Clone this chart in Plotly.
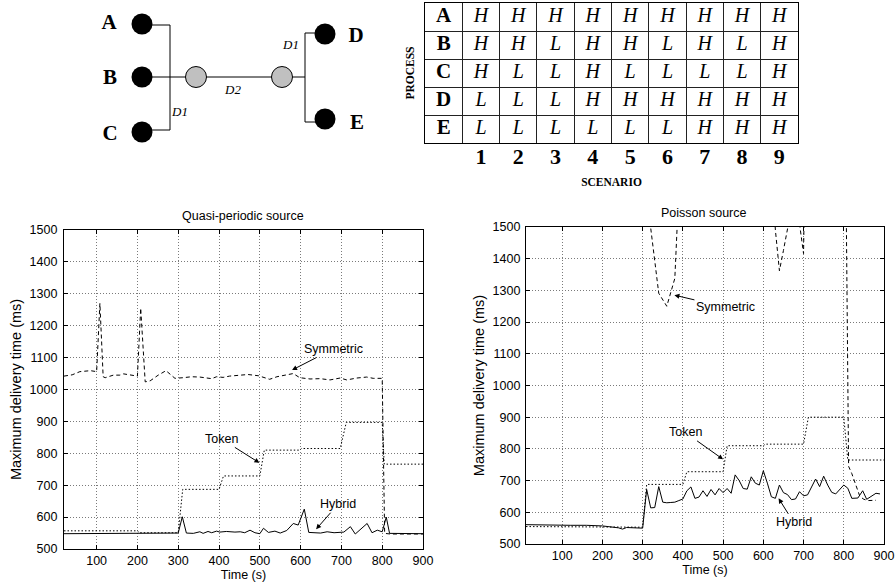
import plotly.graph_objects as go

W, H = 896, 587

# ---------------- data: quasi-periodic source ----------------
qp_sym_t = [20, 40, 59, 85, 100, 108, 116, 121, 141, 157, 166, 186, 200, 208, 219, 231, 251, 270, 292, 312,
            333, 353, 382, 394, 410, 426, 451, 471, 497, 524, 542, 562, 582, 598, 623, 648, 672, 697, 713, 738,
            762, 778, 800, 806, 820, 900]
qp_sym_v = [1042, 1046, 1056, 1059, 1056, 1270, 1040, 1037, 1045, 1045, 1049, 1045, 1042, 1255, 1024, 1027, 1045, 1059, 1035, 1037,
            1040, 1039, 1034, 1040, 1038, 1042, 1044, 1047, 1043, 1032, 1040, 1045, 1050, 1037, 1033, 1034, 1030, 1036, 1030, 1036,
            1039, 1035, 1035, 549, 547, 547]

qp_tok_t = [20, 200, 205, 300, 311, 400, 411, 500, 511, 598, 602, 697, 712, 800, 805, 900]
qp_tok_v = [557, 557, 551, 551, 687, 687, 729, 729, 810, 810, 815, 815, 897, 897, 766, 766]

qp_hyb_t = [20, 50, 100, 150, 200, 250, 300, 310, 320, 337, 353, 361, 373, 382, 394, 402, 418, 439, 452, 463,
            476, 488, 500, 509, 521, 537, 550, 566, 582, 594, 609, 620, 649, 665, 682, 706, 722, 734, 751, 763,
            775, 788, 800, 810, 818, 850, 900]
qp_hyb_v = [548, 548, 549, 550, 549, 549, 550, 601, 550, 549, 554, 549, 555, 551, 556, 553, 555, 553, 554, 551,
            559, 551, 548, 565, 552, 556, 550, 558, 580, 575, 625, 552, 550, 554, 551, 553, 570, 547, 565, 580,
            551, 559, 554, 600, 549, 548, 548]

# ---------------- data: Poisson source ----------------
ps_sym_t = [10, 100, 200, 300, 310, 320, 340, 360, 380, 390, 450, 550, 620, 630, 640, 650, 660, 670, 680, 690,
            700, 710, 760, 800, 812, 820, 840, 850, 860, 870, 880]
ps_sym_v = [1900, 1850, 1900, 1800, 1600, 1490, 1291, 1250, 1338, 1620, 1800, 1750, 1700, 1490, 1362, 1426, 1488, 1560, 1650, 1510,
            1416, 2300, 2200, 2400, 745, 722, 650, 641, 637, 637, 638]

ps_tok_t = [10, 300, 310, 400, 410, 500, 510, 600, 605, 700, 712, 800, 810, 900]
ps_tok_v = [555, 553, 688, 688, 728, 728, 810, 810, 815, 815, 900, 900, 765, 765]

ps_hyb_t = [10, 40, 80, 120, 160, 200, 240, 250, 260, 290, 300, 310, 320, 330, 340, 350, 360, 370, 380, 390,
            400, 410, 420, 430, 440, 450, 460, 470, 480, 490, 500, 510, 520, 530, 540, 550, 560, 570, 580, 590,
            600, 610, 620, 630, 640, 650, 660, 670, 680, 690, 700, 710, 720, 730, 740, 750, 760, 770, 780, 790,
            800, 810, 820, 835, 847, 857, 868, 880, 890]
ps_hyb_v = [561, 560, 561, 559, 559, 557, 551, 547, 552, 550, 550, 672, 614, 615, 681, 632, 630, 631, 632, 637,
            642, 668, 680, 644, 648, 668, 650, 672, 655, 675, 662, 675, 660, 718, 700, 675, 673, 712, 692, 686,
            731, 692, 649, 644, 686, 662, 656, 640, 642, 665, 652, 655, 680, 705, 681, 714, 686, 663, 658, 672,
            686, 676, 644, 645, 668, 641, 650, 660, 658]

x_ticks = [100, 200, 300, 400, 500, 600, 700, 800, 900]
y_ticks = [500, 600, 700, 800, 900, 1000, 1100, 1200, 1300, 1400, 1500]

# ---------------- data: scenario table ----------------
processes = ["A", "B", "C", "D", "E"]
scenarios = ["1", "2", "3", "4", "5", "6", "7", "8", "9"]
levels = [
    ["H", "H", "H", "H", "H", "H", "H", "H", "H"],
    ["H", "H", "L", "H", "H", "L", "H", "L", "H"],
    ["H", "L", "L", "H", "L", "L", "L", "L", "H"],
    ["L", "L", "L", "H", "H", "H", "H", "H", "H"],
    ["L", "L", "L", "L", "L", "L", "H", "H", "H"],
]

# ---------------- data: network diagram (schematic units) ----------------
node_names = ["A", "B", "C", "D", "E"]
node_x = [142, 142, 142, 325, 325]
node_y = [24, 77, 132, 34, 119]
node_label_x = [109, 110, 110, 356, 357]
node_label_y = [24, 79, 135, 37, 124]
relay_x = [196, 282]
relay_y = [77, 77]
wire_x = [142, 170, None, 142, 170, None, 170, 170, None, 142, 305, None, 305, 305, None, 305, 325, None, 305, 325]
wire_y = [25, 25, None, 130, 130, None, 25, 130, None, 77, 77, None, 33, 122, None, 33, 33, None, 122, 122]
link_names = ["D1", "D2", "D1"]
link_x = [180, 233, 291]
link_y = [113, 91, 46]

SANS = "Liberation Sans, Arial, sans-serif"
SERIF = "Liberation Serif, Times New Roman, serif"

fig = go.Figure()

# ---- charts ----
def add_series(t, v, xa, ya, dash, name):
    fig.add_trace(go.Scatter(x=t, y=v, mode="lines", name=name, xaxis=xa, yaxis=ya,
                             line=dict(color="black", width=1, dash=dash), showlegend=False,
                             hoverinfo="skip"))

add_series(qp_sym_t, qp_sym_v, "x", "y", "4px,3px", "Symmetric")
add_series(qp_tok_t, qp_tok_v, "x", "y", "1.5px,2px", "Token")
add_series(qp_hyb_t, qp_hyb_v, "x", "y", "solid", "Hybrid")
add_series(ps_sym_t, ps_sym_v, "x2", "y2", "4px,3px", "Symmetric")
add_series(ps_tok_t, ps_tok_v, "x2", "y2", "1.5px,2px", "Token")
add_series(ps_hyb_t, ps_hyb_v, "x2", "y2", "solid", "Hybrid")

# ---- table ----
fig.add_trace(go.Scatter(
    x=[0] * len(processes), y=list(range(len(processes))), text=processes, mode="text",
    textfont=dict(family=SERIF, size=21, color="black", weight="bold"),
    xaxis="x3", yaxis="y3", showlegend=False, hoverinfo="skip"))
tx, ty, tt = [], [], []
for r, row in enumerate(levels):
    for c, val in enumerate(row):
        tx.append(c + 1)
        ty.append(r)
        tt.append(val)
fig.add_trace(go.Scatter(
    x=tx, y=ty, text=tt, mode="text",
    textfont=dict(family=SERIF, size=20, color="black", style="italic"),
    xaxis="x3", yaxis="y3", showlegend=False, hoverinfo="skip"))

# ---- diagram ----
fig.add_trace(go.Scatter(x=wire_x, y=wire_y, mode="lines", line=dict(color="black", width=1),
                         xaxis="x4", yaxis="y4", showlegend=False, hoverinfo="skip"))
fig.add_trace(go.Scatter(x=node_x, y=node_y, mode="markers",
                         marker=dict(size=21, color="black", line=dict(width=0)),
                         xaxis="x4", yaxis="y4", showlegend=False, hoverinfo="skip"))
fig.add_trace(go.Scatter(x=relay_x, y=relay_y, mode="markers",
                         marker=dict(size=21, color="#c0c0c0", line=dict(width=1, color="black")),
                         xaxis="x4", yaxis="y4", showlegend=False, hoverinfo="skip"))
fig.add_trace(go.Scatter(x=node_label_x, y=node_label_y, text=node_names, mode="text",
                         textfont=dict(family=SERIF, size=21, color="black", weight="bold"),
                         xaxis="x4", yaxis="y4", showlegend=False, hoverinfo="skip"))
fig.add_trace(go.Scatter(x=link_x, y=link_y, text=link_names, mode="text",
                         textfont=dict(family=SERIF, size=13, color="black", style="italic"),
                         xaxis="x4", yaxis="y4", showlegend=False, hoverinfo="skip"))

# ---- axes ----
grid = dict(showgrid=True, gridcolor="#7a7a7a", gridwidth=1, griddash="1px,2px",
            showline=True, linecolor="black", linewidth=1.2, mirror="ticks",
            ticks="inside", ticklen=4, tickcolor="black", zeroline=False,
            tickfont=dict(family=SANS, size=12.5, color="black"), automargin=False)
xtitle = dict(family=SANS, size=12.5, color="black")
ytitle = dict(family=SANS, size=14.5, color="black")

fig.update_layout(
    width=W, height=H, margin=dict(l=0, r=0, t=0, b=0),
    paper_bgcolor="white", plot_bgcolor="white", showlegend=False,
    xaxis=dict(domain=[64 / W, 423 / W], range=[20, 900], tickvals=x_ticks, anchor="y",
               title=dict(text="Time (s)", font=xtitle, standoff=2), **grid),
    yaxis=dict(domain=[1 - 549 / H, 1 - 230 / H], range=[500, 1500], tickvals=y_ticks, anchor="x",
               ticklabelstandoff=3,
               title=dict(text="Maximum delivery time (ms)", font=ytitle, standoff=4), **grid),
    xaxis2=dict(domain=[526 / W, 884 / W], range=[10, 900], tickvals=x_ticks, anchor="y2",
                title=dict(text="Time (s)", font=xtitle, standoff=2), **grid),
    yaxis2=dict(domain=[1 - 544 / H, 1 - 227 / H], range=[500, 1500], tickvals=y_ticks, anchor="x2",
                ticklabelstandoff=2,
                title=dict(text="Maximum delivery time (ms)", font=ytitle, standoff=4), **grid),
    xaxis3=dict(domain=[425 / W, 798 / W], range=[-0.5, 9.5], anchor="y3",
                tickvals=list(range(1, 10)), ticktext=scenarios, ticks="", showgrid=False,
                ticklabelstandoff=-7,
                tickfont=dict(family=SERIF, size=22, color="black", weight="bold"),
                minor=dict(tickvals=[i + 0.5 for i in range(9)], showgrid=True, gridcolor="#222", gridwidth=1, ticks=""),
                showline=True, mirror=True, linecolor="black", linewidth=1.2, zeroline=False, automargin=False,
                title=dict(text="SCENARIO", font=dict(family=SERIF, size=11.5, color="black", weight="bold"), standoff=10)),
    yaxis3=dict(domain=[1 - 143 / H, 1 - 3 / H], range=[4.5, -0.5], anchor="x3",
                showticklabels=False, ticks="", showgrid=False,
                minor=dict(tickvals=[i + 0.5 for i in range(4)], showgrid=True, gridcolor="#222", gridwidth=1, ticks=""),
                showline=True, mirror=True, linecolor="black", linewidth=1.2, zeroline=False, automargin=False,
                title=dict(text="PROCESS", font=dict(family=SERIF, size=11.5, color="black", weight="bold"), standoff=6)),
    xaxis4=dict(domain=[0, 400 / W], range=[0, 400], anchor="y4", visible=False),
    yaxis4=dict(domain=[1 - 200 / H, 1], range=[200, 0], anchor="x4", visible=False),
)

annos = [
    dict(text="Quasi-periodic source", x=243 / W, y=1 - 216 / H, xref="paper", yref="paper",
         showarrow=False, font=dict(family=SANS, size=12.5, color="black"), xanchor="center", yanchor="middle"),
    dict(text="Poisson source", x=704 / W, y=1 - 213 / H, xref="paper", yref="paper",
         showarrow=False, font=dict(family=SANS, size=12.5, color="black"), xanchor="center", yanchor="middle"),
]
arrow_style = dict(showarrow=True, arrowhead=2, arrowsize=1, arrowwidth=1, arrowcolor="black",
                   font=dict(family=SANS, size=12.5, color="black"))
labels = [
    ("Symmetric", 579, 1061, 41, -21, "x", "y"),
    ("Token", 499, 770, -38, -24, "x", "y"),
    ("Hybrid", 638, 562, 22, -25, "x", "y"),
    ("Symmetric", 379, 1285, 51, 12, "x2", "y2"),
    ("Token", 500, 767, -38, -27, "x2", "y2"),
    ("Hybrid", 638, 644, 15, 24, "x2", "y2"),
]
for txt, ax_x, ax_y, dx, dy, xr, yr in labels:
    annos.append(dict(text=txt, x=ax_x, y=ax_y, xref=xr, yref=yr, ax=dx, ay=dy, **arrow_style))
fig.update_layout(annotations=annos)

fig.write_html("out.html", config={"displayModeBar": False},
               post_script="document.body.style.margin='0px';document.body.style.overflow='hidden';")
